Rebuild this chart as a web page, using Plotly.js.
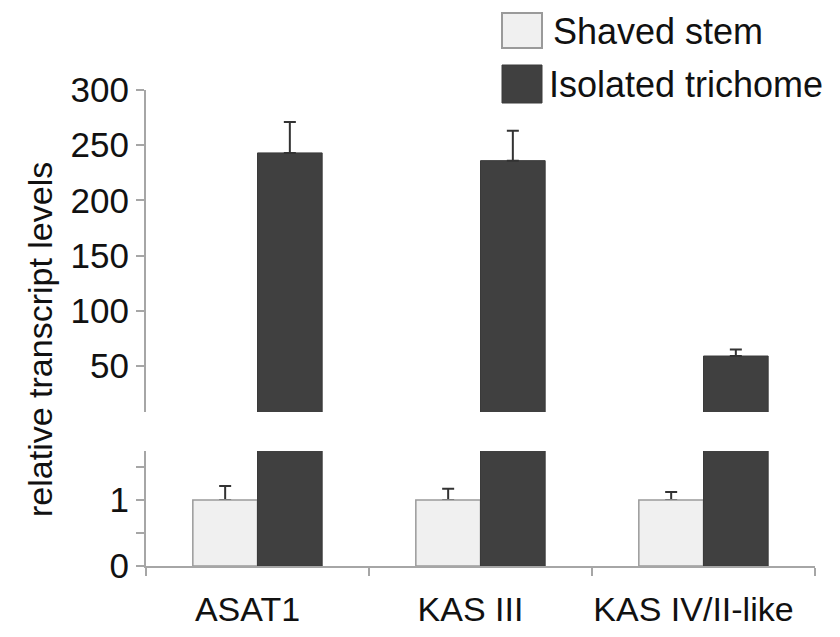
<!DOCTYPE html>
<html>
<head>
<meta charset="utf-8">
<script src="https://cdn.plot.ly/plotly-3.0.1.min.js"></script>
<style>
  html, body { margin: 0; padding: 0; background: #fff; }
  #chart { width: 840px; height: 637px; }
</style>
</head>
<body>
<div id="chart"></div>
<script>
// Relative transcript levels, shaved stem vs isolated trichome
const genes = ["ASAT1", "KAS III", "KAS IV/II-like"];
const seriesNames = ["Shaved stem", "Isolated trichome"];
const shavedStem = [1, 1, 1];
const shavedStemErr = [0.21, 0.17, 0.12];
const trichome = [243, 236, 59];
const trichomeErr = [28, 27, 6];
const upperTicks = [50, 100, 150, 200, 250, 300];
const lowerTickVals = [0, 0.5, 1, 1.5];
const lowerTickText = ["0", "", "1", ""];

const W = 840, H = 637;
const M = { l: 146, r: 25, t: 90, b: 71 };
const plotW = W - M.l - M.r, plotH = H - M.t - M.b;
// pixel -> paper helpers for the hand-built legend and labels
const px = x => (x - M.l) / plotW;
const py = y => (H - M.b - y) / plotH;

const FONT = "Liberation Sans, Arial, Helvetica, sans-serif";
const TXT = "#111111";
const AXIS = "#a6a6a6";
const LIGHT = "#f0f0f0", LIGHT_EDGE = "#9a9a9a";
const DARK = "#404040", DARK_EDGE = "#3a3a3a";

const errStyle = { color: "#333333", thickness: 2, width: 6 };
const zeros = genes.map(() => 0);

const traces = [
  // lower panel: error whiskers for the shaved-stem bars, laid under the bars
  {
    type: "bar", x: genes, y: shavedStem, xaxis: "x", yaxis: "y",
    offsetgroup: "stem", showlegend: false, hoverinfo: "skip",
    marker: { color: "rgba(0,0,0,0)", line: { width: 0 } },
    error_y: Object.assign({ type: "data", symmetric: false, array: shavedStemErr, arrayminus: zeros }, errStyle)
  },
  {
    type: "bar", name: seriesNames[0], x: genes, y: shavedStem, xaxis: "x", yaxis: "y",
    offsetgroup: "stem", showlegend: false,
    marker: { color: LIGHT, line: { color: LIGHT_EDGE, width: 1.5 } }
  },
  {
    type: "bar", name: seriesNames[1], x: genes, y: trichome, xaxis: "x", yaxis: "y",
    offsetgroup: "tri", showlegend: false,
    marker: { color: DARK, line: { color: DARK_EDGE, width: 1 } }
  },
  // upper panel
  {
    type: "bar", name: seriesNames[0], x: genes, y: shavedStem, xaxis: "x", yaxis: "y2",
    offsetgroup: "stem", showlegend: false,
    marker: { color: LIGHT, line: { color: LIGHT_EDGE, width: 1.5 } }
  },
  {
    type: "bar", name: seriesNames[1], x: genes, y: trichome, xaxis: "x", yaxis: "y2",
    offsetgroup: "tri", showlegend: false,
    marker: { color: DARK, line: { color: DARK_EDGE, width: 1 } },
    error_y: Object.assign({ type: "data", symmetric: false, array: trichomeErr, arrayminus: zeros }, errStyle)
  }
];

const axisCommon = {
  showline: true, linecolor: AXIS, linewidth: 2,
  ticks: "outside", ticklen: 8, tickwidth: 2, tickcolor: AXIS,
  showgrid: false, zeroline: false,
  tickfont: { family: FONT, size: 35, color: TXT }
};

const layout = {
  width: W, height: H,
  margin: M,
  paper_bgcolor: "#ffffff", plot_bgcolor: "#ffffff",
  barmode: "group", bargap: 0.42, bargroupgap: 0,
  showlegend: false,
  font: { family: FONT, color: TXT },
  xaxis: Object.assign({}, axisCommon, {
    type: "category", range: [-0.5, 2.5], tickson: "boundaries",
    anchor: "y", ticklabelstandoff: 12, ticklabelshift: -10,
    tickfont: { family: FONT, size: 34, color: TXT }
  }),
  yaxis: Object.assign({}, axisCommon, {
    domain: [0, py(451)], range: [0, 1.74], anchor: "x",
    tickmode: "array", tickvals: lowerTickVals, ticktext: lowerTickText
  }),
  yaxis2: Object.assign({}, axisCommon, {
    domain: [py(412), 1], range: [8.3, 300], anchor: "x",
    tickmode: "array", tickvals: upperTicks
  }),
  shapes: [
    { type: "rect", xref: "paper", yref: "paper",
      x0: px(502), x1: px(542), y0: py(48), y1: py(13),
      fillcolor: LIGHT, line: { color: LIGHT_EDGE, width: 2 } },
    { type: "rect", xref: "paper", yref: "paper",
      x0: px(502), x1: px(542), y0: py(103), y1: py(65),
      fillcolor: DARK, line: { color: DARK_EDGE, width: 1 } }
  ],
  annotations: [
    { text: seriesNames[0], xref: "paper", yref: "paper", x: px(551), y: py(31),
      xanchor: "left", yanchor: "middle", showarrow: false,
      font: { family: FONT, size: 36, color: TXT } },
    { text: seriesNames[1], xref: "paper", yref: "paper", x: px(547), y: py(84),
      xanchor: "left", yanchor: "middle", showarrow: false,
      font: { family: FONT, size: 36, color: TXT } },
    { text: "relative transcript levels", xref: "paper", yref: "paper",
      x: px(40), y: py(340), xanchor: "center", yanchor: "middle",
      textangle: -90, showarrow: false,
      font: { family: FONT, size: 34, color: TXT } }
  ]
};

Plotly.newPlot("chart", traces, layout, { displayModeBar: false, staticPlot: true });
</script>
</body>
</html>
